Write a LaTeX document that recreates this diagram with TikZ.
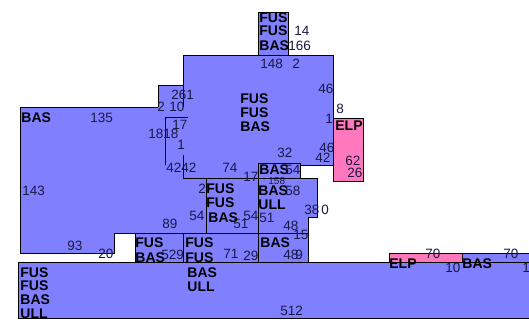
\documentclass[tikz,border=0pt]{standalone}
\usepackage{fontspec}
\setmainfont{Liberation Sans}
\definecolor{room}{RGB}{128,128,255}
\definecolor{roompink}{RGB}{255,120,190}
\definecolor{numc}{RGB}{25,25,70}
\begin{document}
\begin{tikzpicture}[x=1pt,y=-1pt,line width=0.8pt,
  lab/.style={font=\fontsize{14}{14}\bfseries\selectfont,anchor=base west,inner sep=0pt,text=black},
  num/.style={font=\fontsize{13.5}{13.5}\selectfont,anchor=base west,inner sep=0pt,text=numc},
  small/.style={font=\fontsize{10}{10}\selectfont,anchor=base west,inner sep=0pt,text=numc}]
\useasboundingbox (0,0) rectangle (529,321);
\fill[white] (0,0) rectangle (529,321);
% fills
\fill[room] (258,12) rectangle (288,55);
\fill[room] (183,55) rectangle (333,165);
\fill[room] (158,85) rectangle (183,107);
\fill[room] (20,107) rectangle (183,233);
\fill[room] (20,233) rectangle (114,253);
\fill[room] (183,165) rectangle (300,178);
\fill[room] (183,178) rectangle (317,217);
\fill[room] (135,217) rectangle (308,262);
\fill[room] (18,262) rectangle (529,318);
\fill[roompink] (333,118) rectangle (363,181);
\fill[roompink] (389,253) rectangle (462,262);
\fill[room] (462,253) rectangle (529,262);
% outlines
\draw (258,55) -- (258,12) -- (288,12) -- (288,55);
\draw (20,107) -- (158,107);
\draw (20,107) -- (20,253) -- (114,253) -- (114,233) -- (135,233) -- (135,262);
\draw (158,107) -- (158,85) -- (183,85) -- (183,55) -- (333,55) -- (333,118);
\draw (183,85) -- (183,107);
\draw (165,165) -- (165,117) -- (188,117);
\draw (183,155) -- (183,178) -- (317,178) -- (317,217) -- (308,217) -- (308,262);
\draw (258,178) -- (258,163) -- (300,163) -- (300,178);
\draw (300,165) -- (333,165);
\draw (206,178) -- (206,233);
\draw (258,178) -- (258,262);
\draw (114,233) -- (308,233);
\draw (183,233) -- (183,262);
\draw (18,262) -- (529,262);
\draw (18,262) -- (18,318) -- (529,318);
\draw (333,118) rectangle (363,181);
\draw (389,253) rectangle (462,262);
\draw (462,253) rectangle (529,262);
% tower labels
\node[lab] (t1) at (259,23) {FUS};
\node[lab] (t2) at (259,36) {FUS};
\node[lab] (t3) at (259,50) {BAS};
\node[num] (t4) at (294,35) {14};
\node[num] (t5) at (288,50) {16};
\node[num] (t6) at (303,50) {6};
\node[num] (t7) at (260,68) {148};
\node[num] (t8) at (292,68) {2};
% small box labels
\node[num] (s1) at (171,99) {261};
\node[num] (s2) at (157,111) {2};
\node[num] (s3) at (169,111) {10};
\node[num] (s4) at (172,129) {17};
\node[num] (s5) at (148,138) {1818};
\node[num] (s6) at (177,149) {1};
% central labels
\node[lab] (c1) at (240,103) {FUS};
\node[lab] (c2) at (240,117) {FUS};
\node[lab] (c3) at (240,131) {BAS};
\node[num] (c4) at (318,93) {46};
\node[num] (c5) at (325,123) {1};
\node[num] (c6) at (336,113) {8};
\node[num] (c7) at (319,152) {46};
\node[num] (c8) at (315,162) {42};
\node[num] (c9) at (277,157) {32};
% pink labels
\node[lab] (p1) at (335,130) {ELP};
\node[num] (p2) at (345,165) {62};
\node[num] (p3) at (347,177) {26};
% left region
\node[lab] (b1) at (21,122) {BAS};
\node[num] (b2) at (90,122) {135};
\node[num] (b3) at (22,195) {143};
\node[num] (b4) at (67,250) {93};
\node[num] (b5) at (98,258) {20};
\node[num] (b6) at (162,228) {89};
\node[num] (b7) at (166,172) {4242};
\node[num] (b8) at (222,172) {74};
% middle
\node[num] (m1) at (243,181) {17};
\node[lab] (m2) at (259,174) {BAS};
\node[num] (m3) at (285,174) {54};
\node[small] (m4) at (268,184) {158};
\node[lab] (m5) at (258,195) {BAS};
\node[num] (m6) at (285,195) {58};
\node[lab] (m7) at (258,209) {ULL};
\node[num] (m8) at (304,214) {38};
\node[num] (m9) at (321,214) {0};
\node[num] (m10) at (198,193) {2};
\node[lab] (m11) at (206,193) {FUS};
\node[lab] (m12) at (206,207) {FUS};
\node[lab] (m13) at (208,222) {BAS};
\node[num] (m14) at (189,220) {54};
\node[num] (m15) at (243,220) {54};
\node[num] (m16) at (233,228) {51};
\node[num] (m17) at (259,222) {51};
\node[num] (m18) at (283,230) {48};
\node[num] (m19) at (293,239) {15};
\node[lab] (m20) at (260,247) {BAS};
\node[num] (m21) at (283,259) {48};
\node[num] (m22) at (295,259) {9};
\node[lab] (m23) at (185,247) {FUS};
\node[lab] (m24) at (185,262) {FUS};
\node[num] (m25) at (223,258) {71};
\node[num] (m26) at (243,260) {29};
\node[lab] (m27) at (135,247) {FUS};
\node[lab] (m28) at (135,262) {BAS};
\node[num] (m29) at (161,259) {529};
% bottom strip
\node[lab] (d1) at (20,277) {FUS};
\node[lab] (d2) at (20,290) {FUS};
\node[lab] (d3) at (20,304) {BAS};
\node[lab] (d4) at (20,318) {ULL};
\node[lab] (d5) at (187,277) {BAS};
\node[lab] (d6) at (187,291) {ULL};
\node[num] (d7) at (280,315) {512};
% right small boxes
\node[lab] (r1) at (389,268) {ELP};
\node[num] (r2) at (425,258) {70};
\node[num] (r3) at (445,272) {10};
\node[lab] (r4) at (462,268) {BAS};
\node[num] (r5) at (503,258) {70};
\node[num] (r6) at (522,272) {10};
\end{tikzpicture}
\end{document}
